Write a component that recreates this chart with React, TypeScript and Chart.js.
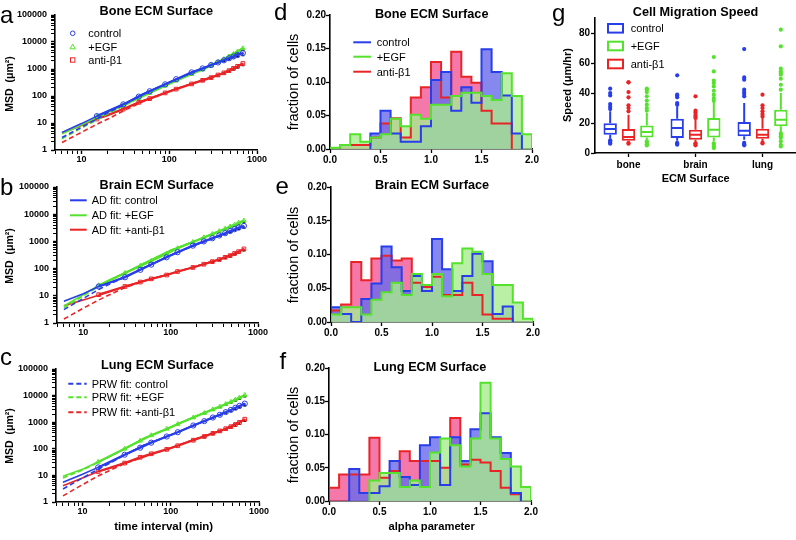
import React, { useEffect, useRef } from 'react';
import { Chart, registerables } from 'chart.js';

Chart.register(...registerables);

const FONT = '"Liberation Sans", Arial, Helvetica, sans-serif';
const BLUE = 'rgb(40,62,235)';
const GREEN = 'rgb(85,226,45)';
const RED = 'rgb(234,36,38)';
const BLUE_FILL = 'rgba(105,105,236,0.8)';
const GREEN_FILL = 'rgba(168,236,143,0.8)';
const RED_FILL = 'rgba(242,86,149,0.8)';

// ---------- MSD panels (a–c) ----------
const MSD_TIME = [15, 30, 45, 60, 90, 120, 180, 240, 300, 360, 420, 480, 540, 600, 690];
const FIT_TIME = [6, 10, 15, 20, 30, 50, 100, 200, 400, 700];

const BONE_MSD_CONTROL = [18, 49, 95, 150, 270, 420, 750, 1050, 1400, 1750, 2100, 2500, 2900, 3300, 3900];
const BONE_MSD_EGF = [17, 45, 85, 130, 240, 370, 650, 950, 1350, 1800, 2300, 2900, 3600, 4400, 5800];
const BONE_MSD_ANTI = [14, 33, 58, 80, 130, 180, 280, 380, 480, 600, 720, 870, 1050, 1250, 1600];
const BONE_ERR_CONTROL = [0, 0, 0, 0, 0, 0, 20, 40, 70, 120, 180, 260, 350, 480, 750];
const BONE_ERR_EGF = [0, 0, 0, 0, 0, 0, 20, 40, 80, 140, 220, 330, 470, 650, 1000];
const BONE_ERR_ANTI = [0, 0, 0, 0, 0, 0, 8, 15, 25, 40, 60, 90, 130, 180, 280];
const BONE_AD_CONTROL = [4.5, 9.5, 18, 27, 49, 120, 320, 850, 1980, 4000];
const BONE_PRW_CONTROL = [2.9, 7, 14, 24, 46, 115, 320, 850, 1980, 4000];
const BONE_AD_EGF = [4.0, 8.5, 16, 25, 45, 105, 290, 750, 2150, 6000];
const BONE_PRW_EGF = [2.6, 6.5, 13, 22, 42, 100, 290, 750, 2150, 6000];
const BONE_AD_ANTI = [4.2, 8.0, 14, 19, 33, 65, 150, 320, 680, 1600];
const BONE_PRW_ANTI = [1.9, 4.5, 9, 14, 28, 62, 150, 320, 680, 1600];

const BRAIN_MSD_CONTROL = [22, 48, 90, 140, 260, 400, 700, 1000, 1300, 1650, 2000, 2400, 2800, 3200, 3700];
const BRAIN_MSD_EGF = [24, 69, 125, 190, 350, 560, 950, 1400, 1850, 2350, 2900, 3500, 4100, 4800, 5800];
const BRAIN_MSD_ANTI = [11, 22, 32, 42, 58, 78, 110, 145, 180, 215, 260, 300, 360, 420, 530];
const BRAIN_ERR_CONTROL = [0, 0, 0, 0, 0, 0, 20, 40, 70, 110, 170, 240, 330, 450, 650];
const BRAIN_ERR_EGF = [0, 0, 0, 0, 0, 0, 25, 50, 90, 150, 230, 330, 450, 620, 900];
const BRAIN_ERR_ANTI = [0, 0, 0, 0, 0, 0, 3, 6, 10, 15, 22, 30, 42, 56, 80];
const BRAIN_AD_CONTROL = [6.3, 12, 22, 30, 50, 110, 310, 780, 1850, 3700];
const BRAIN_PRW_CONTROL = [3.1, 8, 17, 27, 48, 108, 310, 780, 1850, 3700];
const BRAIN_AD_EGF = [4.2, 11, 24, 38, 70, 160, 470, 1100, 2750, 5800];
const BRAIN_PRW_EGF = [3.6, 10, 22, 36, 68, 158, 470, 1100, 2750, 5800];
const BRAIN_AD_ANTI = [4.3, 7, 10.5, 14, 22, 36, 65, 125, 240, 530];
const BRAIN_PRW_ANTI = [1.4, 3.5, 7, 11, 20, 35, 65, 125, 240, 530];

const LUNG_MSD_CONTROL = [20, 60, 110, 170, 290, 420, 750, 1100, 1500, 1900, 2400, 2900, 3500, 4100, 5000];
const LUNG_MSD_EGF = [32, 100, 200, 320, 560, 850, 1500, 2200, 3000, 3800, 4800, 5800, 7000, 8300, 10500];
const LUNG_MSD_ANTI = [14, 29, 48, 65, 95, 130, 210, 290, 380, 470, 570, 680, 820, 980, 1300];
const LUNG_ERR_CONTROL = [0, 0, 0, 0, 0, 0, 25, 50, 90, 140, 220, 320, 450, 620, 900];
const LUNG_ERR_EGF = [0, 0, 0, 0, 0, 0, 40, 80, 150, 250, 400, 580, 800, 1100, 1600];
const LUNG_ERR_ANTI = [0, 0, 0, 0, 0, 0, 8, 15, 25, 40, 60, 85, 120, 160, 230];
const LUNG_AD_CONTROL = [5.5, 11, 20, 30, 60, 140, 330, 860, 2200, 5000];
const LUNG_PRW_CONTROL = [3.1, 8, 17, 28, 58, 138, 330, 860, 2200, 5000];
const LUNG_AD_EGF = [9.2, 17, 32, 50, 100, 250, 650, 1800, 4500, 10500];
const LUNG_PRW_EGF = [8, 16, 31, 50, 100, 250, 650, 1800, 4500, 10500];
const LUNG_AD_ANTI = [4.1, 8, 14, 18, 29, 50, 107, 250, 530, 1300];
const LUNG_PRW_ANTI = [1.7, 4.5, 9.5, 15, 28, 50, 107, 250, 530, 1300];

// ---------- alpha histograms (d–f) ----------
const HIST_BIN_STARTS = [0.0, 0.1, 0.2, 0.3, 0.4, 0.5, 0.6, 0.7, 0.8, 0.9, 1.0, 1.1, 1.2, 1.3, 1.4, 1.5, 1.6, 1.7, 1.8, 1.9];
const HIST_BIN_END = 2.0;

const BONE_HIST_CONTROL = [0, 0, 0, 0, 0.023, 0.057, 0.023, 0.011, 0.011, 0.034, 0.103, 0.115, 0.057, 0.092, 0.069, 0.149, 0.115, 0.080, 0.023, 0];
const BONE_HIST_EGF = [0.002, 0.006, 0.022, 0.011, 0.017, 0.022, 0.045, 0.034, 0.051, 0.045, 0.066, 0.066, 0.079, 0.084, 0.084, 0.079, 0.073, 0.113, 0.079, 0.022];
const BONE_HIST_ANTI = [0, 0.006, 0.006, 0.006, 0.017, 0.038, 0.046, 0.017, 0.077, 0.092, 0.130, 0.077, 0.145, 0.108, 0.099, 0.057, 0.038, 0.038, 0, 0];

const BRAIN_HIST_CONTROL = [0.022, 0.012, 0, 0.034, 0.057, 0.112, 0.081, 0.046, 0.068, 0.046, 0.123, 0.078, 0.046, 0.068, 0.101, 0.090, 0.012, 0.023, 0, 0];
const BRAIN_HIST_EGF = [0.011, 0.022, 0.022, 0.011, 0.033, 0.044, 0.058, 0.040, 0.071, 0.055, 0.071, 0.038, 0.087, 0.109, 0.104, 0.071, 0.055, 0.055, 0.029, 0.005];
const BRAIN_HIST_ANTI = [0.017, 0.026, 0.089, 0.062, 0.094, 0.098, 0.091, 0.094, 0.058, 0.052, 0.067, 0.040, 0.040, 0.058, 0.040, 0.011, 0.005, 0.005, 0, 0];

const LUNG_HIST_CONTROL = [0, 0, 0.048, 0.012, 0.012, 0.022, 0.060, 0.036, 0.024, 0.084, 0.096, 0.024, 0.096, 0.060, 0.108, 0.132, 0.096, 0.072, 0.012, 0];
const LUNG_HIST_EGF = [0, 0, 0, 0, 0.031, 0.042, 0.042, 0.021, 0.031, 0.021, 0.073, 0.094, 0.084, 0.052, 0.094, 0.178, 0.094, 0.063, 0.052, 0.021];
const LUNG_HIST_ANTI = [0.020, 0.040, 0.040, 0.040, 0.095, 0.035, 0.045, 0.075, 0.060, 0.060, 0.060, 0.050, 0.125, 0.055, 0.062, 0.058, 0.045, 0.020, 0.010, 0];

// ---------- speed box plots (g) ----------
const SPEED_CATEGORIES = ['bone', 'brain', 'lung'];
// [lower whisker, Q1, median, Q3, upper whisker]
const SPEED_CONTROL_BOX = [[9.5, 12.2, 16, 19.8, 27.8], [8.2, 10, 16.6, 22.9, 31.1], [8.9, 11.1, 14.9, 20.6, 33.3]];
const SPEED_ANTI_BOX = [[7.1, 8.2, 10.6, 16, 25.5], [7.3, 8.9, 12.2, 15.5, 22.2], [7.8, 9.5, 12.2, 16.2, 23.3]];
const SPEED_EGF_BOX = [[8.9, 10.4, 14, 18.4, 26.6], [7.8, 10.4, 15.5, 23.3, 34], [14.4, 17.8, 22.2, 28.9, 40]];
const SPEED_CONTROL_OUT = [
  [42.9, 40, 38.4, 32.6, 30.9, 29.3, 8.5, 7.6, 6.7, 6.2],
  [51.8, 38.9, 38.2, 37.1, 33.3, 32.2, 6.7, 6.1, 5.5],
  [69.3, 50.4, 48.9, 42.2, 40.6, 39.3, 37.8, 6.7, 5.9, 5.1],
];
const SPEED_ANTI_OUT = [
  [47.1, 47.1, 40.6, 37.1, 31.8, 30, 27.8, 6.6, 6.2],
  [37.8, 28.2, 27, 25.5, 24.4, 23.3, 6.5, 6, 5.1],
  [38.9, 31.8, 30, 27.8, 26, 24.4, 6.9, 6.4],
];
const SPEED_EGF_OUT = [
  [42.9, 42.3, 40.6, 37.8, 34.9, 32.2, 30, 28.2, 7.8, 6.7, 5.8, 5],
  [64, 54.4, 48.2, 46.6, 44.4, 41.5, 38.9, 36.6, 34.9, 6.5, 5.5, 4.4, 3.3],
  [82.2, 71.1, 56.2, 54.4, 53.3, 52.2, 49.5, 45.5, 42.2, 13.3, 12.2, 11.1, 10, 7.8, 5.5, 4.4],
];

// ---------------------------------------------------------------
type Area = { L: number; T: number; R: number; B: number };
type Frame = { yw: number; xh: number; pt: number; pr: number };

function frameBox(a: Area, f: Frame) {
  return { x: a.L - f.yw, y: a.T - f.pt, w: f.yw + (a.R - a.L) + f.pr, h: f.pt + (a.B - a.T) + f.xh };
}

function baseOptions(f: Frame) {
  return {
    responsive: false,
    animation: false,
    devicePixelRatio: 1,
    events: [],
    layout: { padding: { left: 0, top: f.pt, right: f.pr, bottom: 0 } },
    plugins: { legend: { display: false }, title: { display: false }, tooltip: { enabled: false } },
  };
}

function isPow10(v: number) {
  const l = Math.log10(v);
  return Math.abs(l - Math.round(l)) < 1e-6;
}

function logTickValues(min: number, max: number) {
  const out: number[] = [];
  for (let e = Math.floor(Math.log10(min)); e <= Math.ceil(Math.log10(max)); e++) {
    for (let d = 1; d <= 9; d++) {
      const v = Number((d * Math.pow(10, e)).toPrecision(10));
      if (v >= min - 1e-9 && v <= max + 1e-9) out.push(v);
    }
  }
  return out;
}

function axisCommon(fontSize: number, tickLen: number, pad: number) {
  return {
    ticks: {
      autoSkip: false,
      maxRotation: 0,
      minRotation: 0,
      padding: pad,
      color: '#000',
      font: { family: FONT, size: fontSize, weight: 'bold' },
    },
    grid: {
      display: true,
      drawOnChartArea: false,
      drawTicks: true,
      tickLength: tickLen,
      tickColor: '#000',
      tickWidth: 1.3,
    },
    border: { display: true, color: '#000', width: 1.6 },
  };
}

function logAxis(axis: 'x' | 'y', min: number, max: number, f: Frame) {
  const c: any = axisCommon(9, 4, axis === 'x' ? 0 : 4);
  c.grid.tickWidth = (ctx: any) => (ctx.tick && isPow10(ctx.tick.value) ? 1.4 : 1);
  return {
    type: 'logarithmic',
    min,
    max,
    afterBuildTicks: (s: any) => {
      s.ticks = logTickValues(min, max).map((v) => ({ value: v, major: isPow10(v) }));
    },
    afterFit: (s: any) => {
      if (axis === 'x') s.height = f.xh;
      else s.width = f.yw;
    },
    ...c,
    ticks: { ...c.ticks, callback: (v: any) => (isPow10(Number(v)) ? String(Math.round(Number(v))) : '') },
  };
}

function pts(xs: number[], ys: number[]) {
  return ys.map((y, i) => ({ x: xs[i], y }));
}

// black lower error bars, drawn under the data marks
const errorBarPlugin = {
  id: 'msdErrors',
  beforeDatasetsDraw(chart: any) {
    const ctx = chart.ctx;
    const xs = chart.scales.x;
    const ys = chart.scales.y;
    ctx.save();
    ctx.strokeStyle = '#111';
    ctx.lineWidth = 1.2;
    chart.data.datasets.forEach((ds: any) => {
      if (!ds.err) return;
      ds.data.forEach((p: any, i: number) => {
        const e = ds.err[i];
        if (!e) return;
        const x = xs.getPixelForValue(p.x);
        ctx.beginPath();
        ctx.moveTo(x, ys.getPixelForValue(p.y));
        ctx.lineTo(x, ys.getPixelForValue(p.y - e));
        ctx.moveTo(x - 1.5, ys.getPixelForValue(p.y - e));
        ctx.lineTo(x + 1.5, ys.getPixelForValue(p.y - e));
        ctx.stroke();
      });
    });
    ctx.restore();
  },
};

type MsdSet = {
  control: number[]; egf: number[]; anti: number[];
  errControl: number[]; errEgf: number[]; errAnti: number[];
  adControl: number[]; adEgf: number[]; adAnti: number[];
  prwControl: number[]; prwEgf: number[]; prwAnti: number[];
};

function msdConfig(s: MsdSet) {
  return (f: Frame) => {
    const conds = [
      { data: s.control, err: s.errControl, ad: s.adControl, prw: s.prwControl, color: BLUE, style: 'circle' },
      { data: s.egf, err: s.errEgf, ad: s.adEgf, prw: s.prwEgf, color: GREEN, style: 'triangle' },
      { data: s.anti, err: s.errAnti, ad: s.adAnti, prw: s.prwAnti, color: RED, style: 'rect' },
    ];
    const datasets: any[] = [];
    conds.forEach((c) => {
      datasets.push({
        data: pts(MSD_TIME, c.data),
        err: c.err,
        borderColor: c.color,
        borderWidth: 2.2,
        pointStyle: c.style,
        pointRadius: 2.6,
        pointBorderWidth: 1,
        pointBorderColor: c.color,
        pointBackgroundColor: 'rgba(255,255,255,0)',
        showLine: true,
        fill: false,
      });
      datasets.push({
        data: pts(FIT_TIME, c.ad),
        borderColor: c.color,
        borderWidth: 1.6,
        pointRadius: 0,
        fill: false,
      });
      datasets.push({
        data: pts(FIT_TIME, c.prw),
        borderColor: c.color,
        borderWidth: 1.6,
        borderDash: [5, 3],
        pointRadius: 0,
        fill: false,
      });
    });
    return {
      type: 'line',
      data: { datasets },
      plugins: [errorBarPlugin],
      options: {
        ...baseOptions(f),
        scales: {
          x: logAxis('x', 5, 1000, f),
          y: logAxis('y', 1, 100000, f),
        },
      },
    };
  };
}

function stepPoints(vals: number[]) {
  let first = vals.findIndex((v) => v > 0);
  let last = vals.length - 1;
  while (last > 0 && vals[last] === 0) last--;
  if (first < 0) first = 0;
  const out = [{ x: HIST_BIN_STARTS[first], y: 0 }];
  for (let i = first; i <= last; i++) out.push({ x: HIST_BIN_STARTS[i], y: vals[i] });
  const endX = last + 1 < HIST_BIN_STARTS.length ? HIST_BIN_STARTS[last + 1] : HIST_BIN_END;
  out.push({ x: endX, y: 0 });
  return out;
}

function histConfig(control: number[], egf: number[], anti: number[]) {
  return (f: Frame) => {
    const fillSet = (vals: number[], fillc: string, order: number) => ({
      data: stepPoints(vals),
      borderColor: 'rgba(0,0,0,0)',
      backgroundColor: fillc,
      borderWidth: 0,
      stepped: 'before',
      pointRadius: 0,
      fill: 'origin',
      order,
    });
    const lineSet = (vals: number[], color: string, order: number) => ({
      data: stepPoints(vals),
      borderColor: color,
      borderWidth: 2,
      stepped: 'before',
      pointRadius: 0,
      fill: false,
      order,
    });
    const cx: any = axisCommon(10, 4, 1);
    const cy: any = axisCommon(10, 4, 0);
    return {
      type: 'line',
      data: {
        datasets: [
          lineSet(control, BLUE, 1),
          lineSet(egf, GREEN, 0),
          lineSet(anti, RED, 2),
          fillSet(control, BLUE_FILL, 11),
          fillSet(egf, GREEN_FILL, 10),
          fillSet(anti, RED_FILL, 12),
        ],
      },
      options: {
        ...baseOptions(f),
        scales: {
          x: {
            type: 'linear',
            min: 0,
            max: 2,
            afterFit: (s: any) => { s.height = f.xh; },
            ...cx,
            ticks: { ...cx.ticks, stepSize: 0.5, callback: (v: any) => Number(v).toFixed(1) },
          },
          y: {
            type: 'linear',
            min: 0,
            max: 0.2,
            afterFit: (s: any) => { s.width = f.yw; },
            ...cy,
            ticks: { ...cy.ticks, stepSize: 0.05, callback: (v: any) => Number(v).toFixed(2) },
          },
        },
      },
    };
  };
}

const boxPlugin = {
  id: 'boxWhiskers',
  afterDatasetsDraw(chart: any) {
    const ctx = chart.ctx;
    const ys = chart.scales.y;
    chart.data.datasets.forEach((ds: any, i: number) => {
      const meta = chart.getDatasetMeta(i);
      meta.data.forEach((bar: any, j: number) => {
        const [lo, q1, med, q3, hi] = ds.stats[j];
        const x = bar.x;
        const w = bar.width;
        ctx.save();
        ctx.strokeStyle = ds.borderColor;
        ctx.lineWidth = 2;
        ctx.beginPath();
        ctx.moveTo(x - w / 2 + 1, ys.getPixelForValue(med));
        ctx.lineTo(x + w / 2 - 1, ys.getPixelForValue(med));
        ctx.moveTo(x, ys.getPixelForValue(q3));
        ctx.lineTo(x, ys.getPixelForValue(hi));
        ctx.moveTo(x, ys.getPixelForValue(q1));
        ctx.lineTo(x, ys.getPixelForValue(lo));
        ctx.stroke();
        ctx.fillStyle = ds.borderColor;
        ds.outliers[j].forEach((v: number) => {
          ctx.beginPath();
          ctx.arc(x, ys.getPixelForValue(v), 2.1, 0, Math.PI * 2);
          ctx.fill();
        });
        ctx.restore();
      });
    });
  },
};

function boxConfig() {
  return (f: Frame) => {
    const mk = (stats: number[][], outliers: number[][], color: string) => ({
      data: stats.map((s) => [s[1], s[3]]),
      stats,
      outliers,
      borderColor: color,
      backgroundColor: '#ffffff',
      borderWidth: 2,
      borderSkipped: false,
      categoryPercentage: 0.82,
      barPercentage: 0.73,
    });
    const cx: any = axisCommon(10, 4, 2);
    const cy: any = axisCommon(10, 4, 1);
    return {
      type: 'bar',
      data: {
        labels: SPEED_CATEGORIES,
        datasets: [
          mk(SPEED_CONTROL_BOX, SPEED_CONTROL_OUT, BLUE),
          mk(SPEED_ANTI_BOX, SPEED_ANTI_OUT, RED),
          mk(SPEED_EGF_BOX, SPEED_EGF_OUT, GREEN),
        ],
      },
      plugins: [boxPlugin],
      options: {
        ...baseOptions(f),
        scales: {
          x: {
            type: 'category',
            afterFit: (s: any) => { s.height = f.xh; },
            ...cx,
            grid: { ...cx.grid, offset: false },
          },
          y: {
            type: 'linear',
            min: 0,
            max: 90,
            afterFit: (s: any) => { s.width = f.yw; },
            ...cy,
            ticks: { ...cy.ticks, stepSize: 20, includeBounds: false },
          },
        },
      },
    };
  };
}

function ChartCanvas({ area, frame, make }: { area: Area; frame: Frame; make: (f: Frame) => any }) {
  const ref = useRef<HTMLCanvasElement>(null);
  const box = frameBox(area, frame);
  useEffect(() => {
    const chart = new Chart(ref.current as HTMLCanvasElement, make(frame));
    return () => chart.destroy();
  }, []);
  return (
    <canvas
      ref={ref}
      width={box.w}
      height={box.h}
      style={{ position: 'absolute', left: box.x, top: box.y, width: box.w, height: box.h, display: 'block' }}
    />
  );
}

function Txt({ x, y, size, bold, align, rot, children }: any) {
  const tx = align === 'left' ? '0' : '-50%';
  return (
    <div
      style={{
        position: 'absolute',
        left: x,
        top: y,
        transform: `translate(${tx}, -50%)${rot ? ' rotate(-90deg)' : ''}`,
        fontFamily: FONT,
        fontSize: size,
        fontWeight: bold ? 'bold' : 'normal',
        lineHeight: 1,
        whiteSpace: 'nowrap',
        color: '#000',
      }}
    >
      {children}
    </div>
  );
}

const MSD_FRAME: Frame = { yw: 50, xh: 22, pt: 10, pr: 16 };
const HIST_FRAME: Frame = { yw: 40, xh: 22, pt: 10, pr: 12 };
const BOX_FRAME: Frame = { yw: 30, xh: 22, pt: 10, pr: 0 };

export default function App() {
  return (
    <div style={{ position: 'absolute', left: 0, top: 0, width: 796, height: 540, overflow: 'hidden', background: '#fff' }}>
      <ChartCanvas
        area={{ L: 55, T: 15, R: 257, B: 150 }}
        frame={MSD_FRAME}
        make={msdConfig({
          control: BONE_MSD_CONTROL, egf: BONE_MSD_EGF, anti: BONE_MSD_ANTI,
          errControl: BONE_ERR_CONTROL, errEgf: BONE_ERR_EGF, errAnti: BONE_ERR_ANTI,
          adControl: BONE_AD_CONTROL, adEgf: BONE_AD_EGF, adAnti: BONE_AD_ANTI,
          prwControl: BONE_PRW_CONTROL, prwEgf: BONE_PRW_EGF, prwAnti: BONE_PRW_ANTI,
        })}
      />
      <ChartCanvas
        area={{ L: 57, T: 187, R: 258, B: 323 }}
        frame={MSD_FRAME}
        make={msdConfig({
          control: BRAIN_MSD_CONTROL, egf: BRAIN_MSD_EGF, anti: BRAIN_MSD_ANTI,
          errControl: BRAIN_ERR_CONTROL, errEgf: BRAIN_ERR_EGF, errAnti: BRAIN_ERR_ANTI,
          adControl: BRAIN_AD_CONTROL, adEgf: BRAIN_AD_EGF, adAnti: BRAIN_AD_ANTI,
          prwControl: BRAIN_PRW_CONTROL, prwEgf: BRAIN_PRW_EGF, prwAnti: BRAIN_PRW_ANTI,
        })}
      />
      <ChartCanvas
        area={{ L: 56, T: 369, R: 259, B: 502 }}
        frame={MSD_FRAME}
        make={msdConfig({
          control: LUNG_MSD_CONTROL, egf: LUNG_MSD_EGF, anti: LUNG_MSD_ANTI,
          errControl: LUNG_ERR_CONTROL, errEgf: LUNG_ERR_EGF, errAnti: LUNG_ERR_ANTI,
          adControl: LUNG_AD_CONTROL, adEgf: LUNG_AD_EGF, adAnti: LUNG_AD_ANTI,
          prwControl: LUNG_PRW_CONTROL, prwEgf: LUNG_PRW_EGF, prwAnti: LUNG_PRW_ANTI,
        })}
      />
      <ChartCanvas area={{ L: 330, T: 15, R: 532, B: 149 }} frame={HIST_FRAME} make={histConfig(BONE_HIST_CONTROL, BONE_HIST_EGF, BONE_HIST_ANTI)} />
      <ChartCanvas area={{ L: 331, T: 187, R: 533, B: 322 }} frame={HIST_FRAME} make={histConfig(BRAIN_HIST_CONTROL, BRAIN_HIST_EGF, BRAIN_HIST_ANTI)} />
      <ChartCanvas area={{ L: 329, T: 368, R: 531, B: 501 }} frame={HIST_FRAME} make={histConfig(LUNG_HIST_CONTROL, LUNG_HIST_EGF, LUNG_HIST_ANTI)} />
      <ChartCanvas area={{ L: 595, T: 18, R: 796, B: 153 }} frame={BOX_FRAME} make={boxConfig()} />

      <svg width={796} height={540} style={{ position: 'absolute', left: 0, top: 0, pointerEvents: 'none' }}>
        <circle cx={72.7} cy={33.3} r={2.3} fill="none" stroke={BLUE} strokeWidth={1} />
        <polygon points="72.7,44.2 70,48.8 75.4,48.8" fill="none" stroke={GREEN} strokeWidth={1} />
        <rect x={70.5} y={57.8} width={4.4} height={4.4} fill="none" stroke={RED} strokeWidth={1} />
        <line x1={70} x2={86.7} y1={200.3} y2={200.3} stroke={BLUE} strokeWidth={2} />
        <line x1={70} x2={86.7} y1={215.3} y2={215.3} stroke={GREEN} strokeWidth={2} />
        <line x1={70} x2={86.7} y1={229.7} y2={229.7} stroke={RED} strokeWidth={2} />
        <line x1={68.3} x2={86.7} y1={383.7} y2={383.7} stroke={BLUE} strokeWidth={2} strokeDasharray="5 3" />
        <line x1={68.3} x2={86.7} y1={397.3} y2={397.3} stroke={GREEN} strokeWidth={2} strokeDasharray="5 3" />
        <line x1={68.3} x2={86.7} y1={412.3} y2={412.3} stroke={RED} strokeWidth={2} strokeDasharray="5 3" />
        <line x1={353.3} x2={371} y1={42.3} y2={42.3} stroke={BLUE} strokeWidth={2} />
        <line x1={353.3} x2={371} y1={56.7} y2={56.7} stroke={GREEN} strokeWidth={2} />
        <line x1={353.3} x2={371} y1={71.7} y2={71.7} stroke={RED} strokeWidth={2} />
        <rect x={608} y={24} width={15} height={8.6} fill="#fff" stroke={BLUE} strokeWidth={2} />
        <rect x={608} y={41.7} width={15} height={8.6} fill="#fff" stroke={GREEN} strokeWidth={2} />
        <rect x={608} y={59.7} width={15} height={8.6} fill="#fff" stroke={RED} strokeWidth={2} />
      </svg>

      <Txt x={0} y={15} size={24} align="left">a</Txt>
      <Txt x={0} y={186.7} size={24} align="left">b</Txt>
      <Txt x={0} y={357.4} size={24} align="left">c</Txt>
      <Txt x={274} y={12.4} size={24} align="left">d</Txt>
      <Txt x={275.5} y={185.7} size={24} align="left">e</Txt>
      <Txt x={279.5} y={360.7} size={24} align="left">f</Txt>
      <Txt x={552} y={12.7} size={24} align="left">g</Txt>

      <Txt x={156.3} y={11} size={12.7} bold>Bone ECM Surface</Txt>
      <Txt x={156.7} y={184.7} size={12.7} bold>Brain ECM Surface</Txt>
      <Txt x={157.5} y={365} size={12.7} bold>Lung ECM Surface</Txt>
      <Txt x={431.7} y={13.7} size={12.7} bold>Bone ECM Surface</Txt>
      <Txt x={432} y={185.3} size={12.7} bold>Brain ECM Surface</Txt>
      <Txt x={430} y={367} size={12.7} bold>Lung ECM Surface</Txt>
      <Txt x={695.5} y={11.7} size={12.7} bold>Cell Migration Speed</Txt>

      <Txt x={9} y={84} size={10.5} bold rot>MSD&nbsp;&nbsp;(μm²)</Txt>
      <Txt x={9} y={256} size={10.5} bold rot>MSD&nbsp;&nbsp;(μm²)</Txt>
      <Txt x={9} y={436} size={10.5} bold rot>MSD&nbsp;&nbsp;(μm²)</Txt>
      <Txt x={163.7} y={527} size={11.5} bold>time interval (min)</Txt>
      <Txt x={293} y={82} size={14.5} rot>fraction of cells</Txt>
      <Txt x={293} y={254.5} size={14.5} rot>fraction of cells</Txt>
      <Txt x={293} y={434.5} size={14.5} rot>fraction of cells</Txt>
      <Txt x={431.7} y={527} size={11.2} bold>alpha parameter</Txt>
      <Txt x={567} y={85} size={11} bold rot>Speed (μm/hr)</Txt>
      <Txt x={695.7} y={178} size={11} bold>ECM Surface</Txt>

      <Txt x={88.3} y={33.3} size={11} align="left">control</Txt>
      <Txt x={88.3} y={46.7} size={11} align="left">+EGF</Txt>
      <Txt x={88.3} y={60} size={11} align="left">anti-β1</Txt>
      <Txt x={91.7} y={200.3} size={11} align="left">AD fit: control</Txt>
      <Txt x={91.7} y={215.3} size={11} align="left">AD fit: +EGF</Txt>
      <Txt x={91.7} y={229.7} size={11} align="left">AD fit: +anti-β1</Txt>
      <Txt x={91.7} y={383.7} size={11} align="left">PRW fit: control</Txt>
      <Txt x={91.7} y={397.3} size={11} align="left">PRW fit: +EGF</Txt>
      <Txt x={91.7} y={412.3} size={11} align="left">PRW fit: +anti-β1</Txt>
      <Txt x={376.7} y={42.3} size={11} align="left">control</Txt>
      <Txt x={376.7} y={56.7} size={11} align="left">+EGF</Txt>
      <Txt x={376.7} y={71.7} size={11} align="left">anti-β1</Txt>
      <Txt x={630.7} y={28.3} size={11} align="left">control</Txt>
      <Txt x={630.7} y={46} size={11} align="left">+EGF</Txt>
      <Txt x={630.7} y={64} size={11} align="left">anti-β1</Txt>
    </div>
  );
}
